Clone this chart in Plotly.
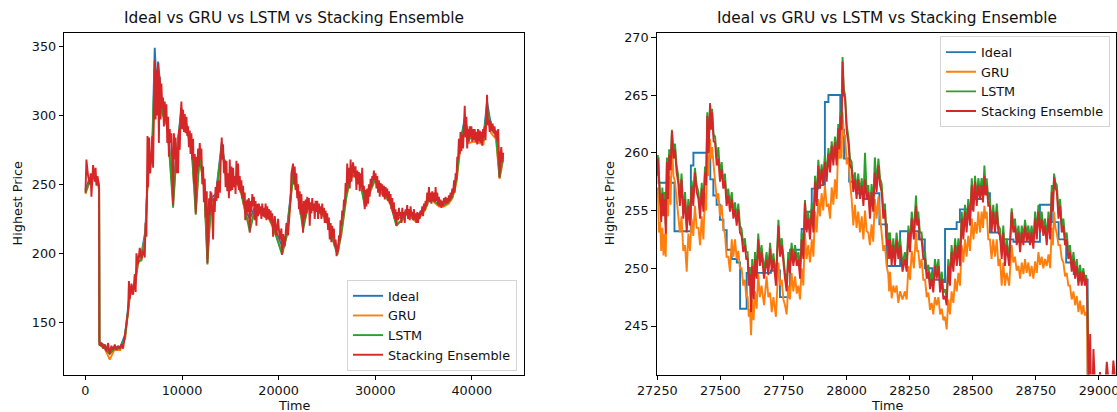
import plotly.graph_objects as go

# ---------------- data: left panel (full test range) ----------------
left_time = [
    0, 100, 273, 446, 540, 618, 791, 963, 1050, 1136,
    1250, 1350, 1412, 1440, 1481, 1653, 1826, 1998, 2171, 2344,
    2516, 2689, 2861, 3034, 3206, 3379, 3551, 3724, 3896, 4069,
    4241, 4414, 4500, 4586, 4759, 4932, 5104, 5200, 5277, 5449,
    5622, 5794, 5967, 6139, 6230, 6312, 6420, 6484, 6600, 6700,
    6829, 6920, 7002, 7174, 7260, 7347, 7450, 7520, 7600, 7692,
    7780, 7865, 7950, 8037, 8120, 8210, 8300, 8382, 8470, 8555,
    8640, 8727, 8800, 8900, 8990, 9072, 9160, 9245, 9330, 9417,
    9500, 9590, 9680, 9763, 9850, 9935, 10020, 10108, 10200, 10280,
    10370, 10453, 10540, 10625, 10710, 10798, 10880, 10970, 11060, 11143,
    11230, 11315, 11419, 11488, 11570, 11660, 11750, 11833, 11920, 12005,
    12090, 12178, 12260, 12351, 12440, 12560, 12627, 12720, 12799, 12870,
    12937, 13000, 13041, 13130, 13213, 13300, 13386, 13470, 13558, 13650,
    13740, 13834, 13920, 14020, 14110, 14180, 14248, 14330, 14421, 14510,
    14594, 14680, 14766, 14850, 14939, 15020, 15111, 15200, 15284, 15370,
    15456, 15540, 15629, 15710, 15801, 15890, 15974, 16060, 16146, 16230,
    16319, 16400, 16491, 16540, 16600, 16664, 16750, 16836, 16920, 17009,
    17090, 17182, 17270, 17354, 17440, 17527, 17610, 17699, 17790, 17872,
    17960, 18044, 18130, 18217, 18300, 18389, 18480, 18562, 18650, 18734,
    18820, 18907, 18990, 19079, 19170, 19252, 19340, 19425, 19596, 19769,
    19941, 20114, 20286, 20355, 20459, 20631, 20804, 20976, 21149, 21240,
    21321, 21494, 21580, 21666, 21750, 21839, 21920, 22011, 22100, 22184,
    22270, 22357, 22529, 22610, 22702, 22790, 22874, 22960, 23047, 23130,
    23219, 23300, 23392, 23480, 23564, 23650, 23737, 23820, 23909, 24000,
    24082, 24170, 24254, 24340, 24427, 24510, 24599, 24690, 24772, 24860,
    24945, 25030, 25117, 25200, 25290, 25380, 25462, 25550, 25635, 25720,
    25807, 25900, 26000, 26083, 26152, 26240, 26325, 26410, 26497, 26580,
    26670, 26760, 26842, 26930, 27015, 27100, 27187, 27280, 27360, 27450,
    27532, 27700, 27878, 27960, 28050, 28140, 28223, 28300, 28395, 28480,
    28568, 28650, 28740, 28830, 28913, 29000, 29085, 29170, 29258, 29340,
    29430, 29520, 29603, 29690, 29776, 29860, 29948, 30040, 30121, 30210,
    30293, 30380, 30466, 30550, 30638, 30720, 30811, 30900, 30983, 31070,
    31156, 31240, 31328, 31420, 31501, 31590, 31673, 31760, 31846, 31930,
    32019, 32100, 32191, 32280, 32364, 32450, 32536, 32620, 32709, 32800,
    32881, 32970, 33054, 33140, 33226, 33310, 33399, 33490, 33571, 33660,
    33744, 33830, 33916, 34000, 34089, 34170, 34261, 34350, 34434, 34520,
    34607, 34690, 34779, 34870, 34952, 35040, 35124, 35210, 35297, 35380,
    35469, 35560, 35642, 35730, 35814, 35900, 35987, 36070, 36159, 36250,
    36332, 36420, 36504, 36590, 36677, 36760, 36849, 36940, 37022, 37110,
    37195, 37280, 37367, 37450, 37540, 37620, 37712, 37800, 37885, 37970,
    38057, 38161, 38230, 38320, 38402, 38490, 38575, 38660, 38747, 38830,
    38920, 39000, 39092, 39180, 39265, 39350, 39437, 39520, 39610, 39700,
    39782, 39870, 39955, 40040, 40127, 40210, 40300, 40390, 40472, 40560,
    40645, 40730, 40817, 40900, 40990, 41080, 41163, 41250, 41335, 41420,
    41508, 41577, 41650, 41750, 41850, 41950, 42050, 42150, 42250, 42350,
    42450, 42550, 42650, 42730, 42800, 42870, 42950, 43050, 43150, 43250,
]
left_ensemble = [
    244, 268, 256, 250, 258, 241, 264, 252, 262, 249,
    256, 250, 248, 137, 133, 135, 131, 134, 129, 135,
    127, 133, 130, 134, 130, 133, 131, 134, 131, 140,
    150, 158, 180, 167, 178, 170, 185, 172, 200, 192,
    204, 196, 202, 197, 222, 212, 285, 248, 284, 258,
    270, 285, 262, 340, 297, 333, 300, 338, 280, 328,
    297, 323, 305, 313, 292, 310, 296, 308, 280, 299,
    270, 290, 280, 287, 262, 235, 287, 268, 284, 258,
    277, 258, 290, 275, 300, 310, 290, 304, 288, 301,
    287, 299, 285, 292, 277, 289, 272, 287, 268, 283,
    250, 272, 229, 270, 258, 276, 263, 280, 268, 276,
    250, 263, 237, 254, 226, 245, 193, 230, 240, 228,
    245, 235, 244, 225, 210, 240, 230, 248, 238, 252,
    240, 253, 244, 270, 284, 268, 279, 258, 268, 248,
    267, 245, 258, 240, 268, 245, 263, 246, 262, 248,
    256, 243, 267, 250, 265, 246, 256, 244, 253, 240,
    249, 235, 244, 224, 238, 229, 239, 230, 240, 215,
    238, 230, 243, 234, 241, 224, 238, 220, 236, 227,
    236, 229, 234, 225, 236, 227, 233, 226, 236, 224,
    234, 225, 232, 224, 231, 222, 229, 212, 227, 213,
    225, 210, 218, 199, 214, 205, 222, 213, 228, 240,
    258, 265, 250, 263, 246, 258, 240, 250, 232, 245,
    228, 243, 215, 238, 225, 239, 229, 241, 232, 240,
    220, 237, 229, 240, 231, 236, 225, 238, 230, 238,
    225, 236, 229, 234, 225, 236, 228, 233, 222, 231,
    222, 229, 217, 226, 210, 222, 208, 220, 212, 218,
    205, 210, 198, 205, 201, 213, 209, 224, 220, 231,
    227, 239, 234, 251, 244, 265, 250, 262, 247, 268,
    252, 266, 255, 263, 246, 260, 250, 259, 245, 258,
    248, 262, 245, 249, 232, 246, 234, 247, 236, 250,
    241, 254, 248, 256, 253, 260, 253, 258, 247, 256,
    244, 253, 241, 251, 245, 250, 241, 249, 239, 248,
    241, 247, 238, 245, 236, 243, 232, 240, 229, 237,
    225, 232, 220, 230, 224, 233, 227, 230, 222, 233,
    226, 230, 222, 232, 228, 235, 225, 232, 224, 234,
    227, 230, 224, 232, 225, 229, 222, 230, 222, 229,
    225, 231, 228, 234, 227, 236, 231, 238, 234, 244,
    238, 248, 237, 244, 236, 245, 238, 244, 237, 248,
    238, 244, 235, 241, 234, 239, 233, 238, 234, 240,
    236, 241, 236, 240, 237, 242, 238, 244, 240, 247,
    243, 253, 244, 258, 253, 270, 268, 283, 272, 288,
    274, 286, 276, 290, 307, 284, 299, 276, 290, 281,
    292, 284, 292, 281, 290, 282, 290, 281, 288, 279,
    290, 281, 289, 280, 288, 278, 290, 284, 292, 282,
    300, 315, 293, 297, 288, 296, 289, 294, 287, 292,
    284, 289, 281, 290, 272, 255, 270, 277, 266, 273,
]
left_model_time = [
    0, 400, 800, 1300, 1412, 1450, 2000, 2516, 3000, 3600,
    4100, 4600, 5100, 5450, 5800, 6200, 6500, 6900, 7174, 7400,
    7520, 8000, 8500, 9072, 9400, 9935, 10500, 11000, 11419, 11800,
    12300, 12627, 13000, 13500, 14110, 14600, 15100, 15600, 16100, 16600,
    17009, 17500, 18000, 18500, 19000, 19500, 20355, 20800, 21494, 22000,
    22529, 23000, 23500, 24000, 24500, 25000, 25500, 26083, 26500, 27000,
    27450, 28000, 28500, 28913, 29500, 30000, 30500, 31000, 31500, 32191,
    32700, 33200, 33700, 34200, 34700, 35200, 35600, 36100, 36600, 37100,
    37600, 38000, 38400, 38800, 39265, 39700, 40200, 40700, 41200, 41577,
    42000, 42500, 42870, 43250,
]
left_ideal = [
    246, 254, 258, 253, 248, 136, 133, 129, 132, 132,
    141, 172, 178, 196, 200, 216, 265, 273, 349, 315,
    339, 303, 294, 245, 271, 305, 292, 278, 240, 272,
    250, 200, 240, 243, 280, 256, 254, 255, 247, 231,
    225, 233, 232, 230, 228, 220, 205, 214, 258, 245,
    226, 235, 235, 234, 231, 226, 215, 203, 217, 243,
    258, 259, 252, 240, 248, 256, 247, 244, 240, 226,
    226, 231, 229, 226, 230, 235, 242, 240, 237, 237,
    239, 243, 255, 280, 298, 285, 286, 285, 284, 310,
    292, 288, 258, 272,
]
left_gru = [
    243, 251, 255, 250, 246, 134, 131, 123, 130, 130,
    138, 169, 175, 193, 197, 213, 262, 270, 330, 312,
    320, 300, 291, 238, 268, 302, 289, 275, 232, 269,
    247, 196, 237, 240, 276, 253, 251, 252, 244, 228,
    220, 230, 229, 227, 225, 217, 201, 211, 255, 242,
    220, 232, 232, 231, 228, 223, 212, 200, 214, 240,
    255, 256, 249, 236, 245, 253, 244, 241, 237, 222,
    223, 228, 226, 223, 227, 232, 239, 237, 234, 234,
    236, 240, 251, 276, 293, 280, 281, 280, 279, 302,
    287, 283, 254, 268,
]
left_lstm = [
    244, 252, 256, 251, 247, 134, 131, 127, 131, 131,
    139, 170, 176, 194, 195, 214, 263, 271, 335, 313,
    328, 301, 292, 233, 269, 303, 290, 276, 228, 270,
    248, 192, 238, 241, 278, 254, 252, 253, 245, 229,
    216, 231, 230, 228, 226, 218, 199, 212, 256, 243,
    217, 233, 233, 232, 229, 224, 213, 199, 215, 241,
    256, 257, 250, 234, 246, 254, 245, 242, 238, 220,
    224, 229, 227, 224, 228, 233, 240, 238, 235, 235,
    237, 241, 253, 278, 296, 283, 284, 283, 282, 306,
    290, 286, 255, 270,
]

# ---------------- data: right panel (zoomed window) ----------------
# each reading: time, upper and lower value of the noisy band
right_time = [
    27242, 27252, 27261, 27270, 27279, 27288, 27297, 27308, 27320, 27333,
    27346, 27360, 27373, 27386, 27399, 27413, 27426, 27439, 27448, 27459,
    27467, 27479, 27492, 27505, 27518, 27531, 27545, 27558, 27571, 27584,
    27597, 27608, 27617, 27626, 27637, 27650, 27663, 27683,
    27697, 27710, 27730, 27743, 27756, 27769, 27782, 27796, 27809, 27822,
    27835, 27848, 27862, 27875, 27888, 27901, 27914, 27928, 27941, 27954,
    27967, 27976, 27984, 27994, 28007, 28020, 28033, 28046, 28060, 28073,
    28086, 28099, 28112, 28126, 28139, 28152, 28165,
    28172, 28185, 28198, 28212, 28231, 28245, 28258, 28275, 28284, 28297,
    28311, 28324, 28337, 28350, 28364, 28377, 28390, 28403, 28416, 28430,
    28443, 28456, 28469, 28482, 28496, 28509, 28522, 28535, 28546, 28555,
    28568, 28581, 28595,
    28608, 28621, 28634, 28654, 28667, 28681, 28694, 28707, 28720, 28733,
    28747, 28760, 28773, 28786, 28800, 28813, 28822, 28833, 28846, 28859,
    28872, 28885, 28899, 28912, 28925, 28938, 28949,
    28956, 28965, 28971, 28978, 28991, 29004, 29017, 29031, 29044, 29057,
    29070, 29080,
]
right_ensemble_hi = [
    259.8, 259.5, 256.5, 256.5, 256.0, 259.2, 259.8, 261.9, 260.3, 257.4,
    257.7, 256.0, 255.4, 257.1, 258.3, 256.0, 256.9, 258.3, 263.2, 264.2,
    263.5, 260.9, 259.5, 258.6, 257.6, 256.3, 256.0, 255.1, 255.1, 252.8,
    252.0, 250.8, 249.5, 250.2, 250.8, 252.5, 251.4, 250.8,
    251.7, 250.8, 253.7, 252.0, 249.1, 250.8, 251.7, 251.4, 250.8, 252.5,
    255.7, 254.3, 255.1, 257.5, 258.9, 258.6, 259.2, 259.9, 260.6, 260.9,
    262.1, 263.2, 267.9, 264.7, 260.9, 258.6, 257.7, 257.7, 257.2, 257.7,
    256.6, 256.6, 258.3, 258.9, 256.6, 255.1, 252.5,
    252.5, 252.0, 252.5, 252.0, 250.8, 253.1, 254.3, 255.4, 254.3, 252.5,
    250.8, 249.7, 249.1, 250.2, 250.2, 249.1, 247.6, 250.2, 251.4, 252.0,
    252.0, 254.3, 254.9, 255.4, 257.2, 257.5, 257.2, 257.2, 258.0, 257.2,
    255.4, 254.9, 254.9,
    252.8, 253.1, 252.0, 254.9, 253.7, 253.1, 253.1, 253.7, 253.1, 253.1,
    254.3, 254.9, 254.3, 253.7, 254.3, 256.6, 257.9, 256.6, 255.4, 253.7,
    252.5, 251.4, 250.8, 250.2, 249.7, 249.7, 249.1,
    239.5, 244.3, 240.2, 243.0, 240.0, 241.0, 240.2, 241.9, 240.5, 242.0,
    240.6, 241.5,
]
right_ensemble_lo = [
    258.0, 257.7, 254.0, 254.5, 253.0, 256.0, 258.5, 259.5, 258.3, 255.4,
    254.3, 253.1, 253.7, 255.4, 256.6, 254.3, 254.9, 257.2, 260.0, 262.0,
    261.0, 258.9, 257.5, 256.9, 255.4, 254.9, 254.3, 253.7, 253.1, 251.4,
    250.8, 248.5, 246.2, 247.3, 249.1, 250.2, 249.1, 249.4,
    249.7, 248.5, 251.0, 250.2, 248.0, 249.6, 250.2, 250.2, 249.1, 250.8,
    253.1, 252.5, 253.1, 255.4, 256.9, 257.2, 257.5, 258.3, 258.9, 258.9,
    260.3, 262.0, 265.0, 261.8, 258.9, 256.6, 256.0, 256.0, 255.4, 256.0,
    254.3, 254.9, 256.6, 257.2, 254.3, 252.0, 250.8,
    250.2, 250.2, 250.8, 249.7, 249.7, 251.4, 252.5, 253.7, 252.5, 250.8,
    249.1, 248.2, 247.9, 249.1, 247.9, 247.3, 246.8, 248.5, 249.7, 250.2,
    250.2, 252.5, 253.1, 253.7, 254.9, 255.4, 256.0, 255.7, 256.3, 255.4,
    253.1, 253.1, 253.1,
    250.8, 250.2, 250.2, 253.1, 252.0, 251.4, 252.0, 252.3, 252.0, 251.7,
    252.5, 253.1, 252.8, 252.0, 252.5, 254.9, 257.0, 254.3, 253.1, 252.0,
    250.8, 249.7, 249.1, 248.5, 248.5, 248.5, 248.2,
    239.0, 240.0, 239.5, 239.8, 239.5, 239.8, 239.5, 240.3, 239.6, 240.5,
    239.8, 240.2,
]
right_gru_hi = [
    258.0, 257.0, 254.0, 253.5, 253.0, 257.0, 258.0, 260.9, 257.5, 254.3,
    254.5, 252.0, 253.0, 254.3, 255.4, 253.5, 254.5, 256.5, 260.0, 261.2,
    260.5, 257.5, 256.5, 255.5, 253.0, 251.0, 252.5, 252.5, 251.5, 250.0,
    249.0, 247.5, 246.5, 247.3, 248.0, 249.5, 248.5, 249.3,
    247.9, 247.5, 250.5, 249.0, 246.8, 248.5, 249.6, 249.3, 248.5, 250.0,
    253.1, 252.0, 252.5, 254.9, 256.0, 256.5, 257.2, 255.5, 257.0, 257.7,
    260.9, 261.0, 263.5, 261.5, 259.5, 256.0, 255.5, 254.9, 254.5, 255.0,
    253.1, 253.8, 256.0, 256.2, 253.0, 252.0, 249.5,
    249.7, 248.5, 248.5, 248.0, 248.0, 250.2, 251.5, 253.1, 251.5, 250.8,
    249.0, 247.9, 247.0, 247.5, 247.5, 246.5, 245.8, 247.3, 248.0, 249.1,
    249.6, 252.0, 252.5, 252.8, 254.3, 254.0, 254.9, 254.9, 255.4, 254.9,
    252.5, 252.5, 252.5,
    250.8, 250.5, 249.6, 252.0, 251.0, 250.2, 250.5, 250.8, 250.5, 250.2,
    250.6, 251.4, 251.0, 250.8, 251.2, 253.5, 254.9, 253.0, 252.0, 250.5,
    249.6, 248.5, 248.0, 247.6, 247.2, 246.8, 246.2,
    237.6, 238.0, 237.5, 237.8, 237.4, 237.8, 237.5, 238.1, 237.6, 238.0,
    237.5, 237.9,
]
right_gru_lo = [
    256.5, 253.1, 251.5, 251.1, 251.0, 254.5, 255.5, 258.0, 256.0, 253.1,
    251.5, 249.7, 251.5, 252.8, 253.5, 252.0, 252.5, 255.0, 258.0, 259.5,
    258.5, 256.0, 254.5, 253.5, 251.0, 249.7, 251.0, 250.8, 250.0, 248.5,
    247.5, 245.8, 244.2, 245.5, 246.5, 247.5, 246.8, 247.5,
    246.2, 245.8, 248.5, 247.3, 246.0, 247.3, 248.0, 247.8, 247.3, 248.5,
    250.8, 250.5, 251.0, 253.1, 254.5, 255.0, 255.4, 254.3, 255.5, 256.0,
    259.5, 259.5, 261.5, 259.0, 257.5, 253.7, 253.5, 253.1, 252.5, 253.2,
    252.0, 252.3, 254.3, 254.5, 251.5, 250.2, 248.0,
    247.4, 247.9, 247.0, 247.3, 247.3, 249.0, 250.0, 251.5, 250.0, 249.0,
    247.5, 246.4, 246.0, 246.8, 246.0, 245.5, 244.7, 246.0, 247.0, 248.0,
    248.5, 250.5, 251.0, 251.5, 252.5, 253.0, 253.1, 253.5, 254.3, 252.5,
    250.8, 251.0, 250.2,
    248.5, 248.5, 248.5, 250.5, 249.8, 249.1, 249.5, 249.6, 249.3, 249.1,
    249.6, 250.3, 250.0, 250.2, 250.0, 252.0, 253.5, 252.0, 250.8, 249.3,
    248.5, 247.3, 246.8, 246.2, 246.0, 245.9, 246.0,
    236.8, 237.2, 236.9, 237.0, 236.8, 237.1, 236.9, 237.3, 236.9, 237.2,
    236.8, 237.1,
]
right_lstm_hi = [
    260.0, 259.8, 257.0, 257.0, 256.6, 259.6, 260.3, 262.0, 260.8, 258.0,
    258.2, 256.6, 256.0, 257.6, 258.7, 256.6, 257.4, 258.8, 263.5, 264.3,
    263.8, 261.4, 260.5, 259.2, 258.2, 256.9, 256.6, 255.7, 255.6, 253.4,
    252.6, 251.4, 250.1, 250.8, 251.4, 253.0, 252.0, 251.4,
    252.2, 251.3, 254.2, 252.6, 249.6, 251.4, 252.2, 252.0, 251.4, 253.1,
    255.9, 254.9, 255.7, 258.0, 259.4, 259.0, 259.8, 260.4, 261.0, 261.4,
    262.5, 263.5, 268.3, 265.0, 261.4, 259.2, 258.3, 258.2, 257.8, 260.0,
    257.2, 257.3, 259.6, 259.5, 257.3, 255.6, 253.1,
    253.1, 252.6, 253.1, 252.6, 251.4, 253.7, 254.9, 256.3, 254.9, 253.1,
    251.4, 250.3, 249.7, 250.8, 250.8, 249.7, 248.2, 250.8, 252.0, 252.6,
    252.6, 254.9, 255.5, 256.0, 257.8, 258.0, 257.8, 257.8, 258.9, 257.8,
    256.0, 255.5, 255.6,
    253.4, 253.7, 252.6, 255.2, 254.3, 253.7, 253.7, 254.2, 253.7, 253.7,
    254.9, 255.5, 254.9, 254.3, 254.9, 257.2, 258.2, 257.2, 256.0, 254.3,
    253.1, 252.0, 251.4, 250.8, 250.3, 250.0, 249.4,
    239.3, 239.6, 239.2, 239.5, 239.1, 239.4, 239.2, 239.7, 239.3, 239.6,
    239.2, 239.5,
]
right_lstm_lo = [
    258.5, 258.2, 254.8, 255.2, 253.8, 256.8, 259.0, 260.0, 258.9, 256.0,
    255.0, 253.8, 254.3, 256.0, 257.2, 255.0, 255.5, 257.7, 260.6, 262.5,
    261.6, 259.5, 258.0, 257.5, 256.0, 255.5, 254.9, 254.3, 253.7, 252.0,
    251.4, 249.2, 247.0, 248.0, 249.7, 250.8, 249.8, 250.0,
    250.2, 249.2, 251.6, 250.8, 248.6, 250.2, 250.8, 250.8, 249.7, 251.4,
    253.7, 253.1, 253.7, 256.0, 257.4, 257.8, 258.0, 258.9, 259.4, 259.5,
    260.8, 262.5, 265.5, 262.4, 259.5, 257.2, 256.6, 256.6, 256.0, 256.6,
    255.0, 255.5, 257.2, 257.8, 255.0, 252.6, 251.4,
    250.8, 250.8, 251.4, 250.3, 250.3, 252.0, 253.1, 254.3, 253.1, 251.4,
    249.7, 248.8, 248.5, 249.7, 248.5, 247.9, 247.4, 249.1, 250.3, 250.8,
    250.8, 253.1, 253.7, 254.3, 255.5, 256.0, 256.6, 256.3, 256.9, 256.0,
    253.7, 253.7, 253.7,
    251.4, 250.8, 250.8, 253.7, 252.6, 252.0, 252.6, 252.9, 252.6, 252.3,
    253.1, 253.7, 253.4, 252.6, 253.1, 255.5, 257.4, 254.9, 253.7, 252.6,
    251.4, 250.3, 249.7, 249.1, 249.1, 249.1, 248.8,
    238.6, 238.9, 238.6, 238.8, 238.5, 238.8, 238.6, 239.0, 238.6, 238.9,
    238.5, 238.8,
]
right_ideal_time = [
    27240, 27255, 27318, 27383, 27393, 27460, 27472, 27485, 27498, 27512,
    27525, 27545, 27565, 27578, 27604, 27700, 27736, 27776, 27822, 27835,
    27862, 27888, 27914, 27928, 27975, 27990, 28010, 28040, 28070, 28100,
    28130, 28160, 28212, 28285, 28310, 28340, 28383, 28390, 28436, 28449,
    28500, 28540, 28568, 28608, 28661, 28766, 28813, 28840, 28870, 28900,
    28930, 28955, 29080,
]
right_ideal = [
    259.5, 257.4, 253.2, 258.9, 260.0, 257.7, 256.3, 255.5, 254.2, 253.3,
    251.6, 250.8, 250.5, 246.5, 249.6, 249.8, 247.5, 251.6, 253.4, 254.9,
    256.9, 257.2, 264.4, 265.0, 262.0, 259.5, 257.5, 256.5, 256.0, 256.5,
    253.8, 250.2, 253.2, 252.5, 250.0, 249.0, 248.8, 253.4, 254.0, 255.1,
    256.0, 256.5, 253.1, 252.5, 252.3, 255.5, 254.0, 252.5, 250.5, 249.5,
    249.0, 238.0, 238.0,
]

series_names = ["Ideal", "GRU", "LSTM", "Stacking Ensemble"]
series_colors = ["#1f77b4", "#ff7f0e", "#2ca02c", "#d62728"]
left_x_ticks = [0, 10000, 20000, 30000, 40000]
left_y_ticks = [150, 200, 250, 300, 350]
right_x_ticks = [27250, 27500, 27750, 28000, 28250, 28500, 28750, 29000]
right_y_ticks = [245, 250, 255, 260, 265, 270]
title_text = "Ideal vs GRU vs LSTM vs Stacking Ensemble"


def band(times, hi, lo):
    """Noisy band: alternate between upper and lower reading."""
    xs, ys = [], []
    n = len(times)
    for i, (t, h, l) in enumerate(zip(times, hi, lo)):
        nxt = times[i + 1] if i + 1 < n else t + 12
        xs += [t, (t + nxt) / 2]
        ys += [h, l]
    return xs, ys


W, H = 1117, 412
LW = 1.9
FONT = "DejaVu Sans"
TXT = "#111111"

fig = go.Figure()

# left panel
left_sets = [
    (left_model_time, left_ideal),
    (left_model_time, left_gru),
    (left_model_time, left_lstm),
    (left_time, left_ensemble),
]
for (xs, ys), name, col in zip(left_sets, series_names, series_colors):
    fig.add_trace(go.Scatter(x=xs, y=ys, mode="lines", name=name,
                             line=dict(color=col, width=LW),
                             xaxis="x", yaxis="y", legend="legend"))

# right panel
rx_g, ry_g = band(right_time, right_gru_hi, right_gru_lo)
rx_l, ry_l = band(right_time, right_lstm_hi, right_lstm_lo)
rx_e, ry_e = band(right_time, right_ensemble_hi, right_ensemble_lo)
right_sets = [
    (right_ideal_time, right_ideal, "hv"),
    (rx_g, ry_g, "linear"),
    (rx_l, ry_l, "linear"),
    (rx_e, ry_e, "linear"),
]
for (xs, ys, shape), name, col in zip(right_sets, series_names, series_colors):
    fig.add_trace(go.Scatter(x=xs, y=ys, mode="lines", name=name,
                             line=dict(color=col, width=LW, shape=shape),
                             xaxis="x2", yaxis="y2", legend="legend2"))

axis_common = dict(showline=True, linecolor="black", linewidth=1, mirror=True,
                   ticks="outside", ticklen=4.5, tickwidth=1, tickcolor="black",
                   showgrid=False, zeroline=False, tickformat="d",
                   automargin=False, ticklabeloverflow="allow",
                   tickfont=dict(family=FONT, size=12.8, color=TXT))

ydom = [1 - 374.5 / H, 1 - 32.7 / H]
fig.update_layout(
    width=W, height=H,
    margin=dict(l=0, r=0, t=0, b=0, autoexpand=False),
    paper_bgcolor="white", plot_bgcolor="white",
    font=dict(family=FONT, size=12.8, color=TXT),
    xaxis=dict(domain=[64.3 / W, 523.9 / W], range=[-2190, 45390],
               tickvals=left_x_ticks, anchor="y", **axis_common),
    yaxis=dict(domain=ydom, range=[112.2, 359.9],
               tickvals=left_y_ticks, anchor="x", **axis_common),
    xaxis2=dict(domain=[656.7 / W, 1116.3 / W], range=[27247.6, 29068.6],
                tickvals=right_x_ticks, anchor="y2", **axis_common),
    yaxis2=dict(domain=ydom, range=[240.8, 270.4],
                tickvals=right_y_ticks, anchor="x2", **axis_common),
    legend=dict(x=517 / W, xanchor="right", y=1 - 371 / H, yanchor="bottom",
                bgcolor="rgba(255,255,255,0.85)", bordercolor="#d4d4d4",
                borderwidth=1, font=dict(family=FONT, size=12.8, color=TXT),
                tracegroupgap=0, itemwidth=30),
    legend2=dict(x=1110 / W, xanchor="right", y=1 - 36.3 / H, yanchor="top",
                 bgcolor="rgba(255,255,255,0.85)", bordercolor="#d4d4d4",
                 borderwidth=1, font=dict(family=FONT, size=12.8, color=TXT),
                 tracegroupgap=0, itemwidth=30),
    showlegend=True,
)

annotations = [
    dict(text=title_text, x=(64.3 + 523.9) / 2 / W, y=1 - 18.3 / H,
         font=dict(size=15.4)),
    dict(text=title_text, x=(656.7 + 1116.3) / 2 / W, y=1 - 18.3 / H,
         font=dict(size=15.4)),
    dict(text="Time", x=(64.3 + 523.9) / 2 / W, y=1 - 405.0 / H,
         font=dict(size=12.8)),
    dict(text="Time", x=(656.7 + 1116.3) / 2 / W, y=1 - 405.0 / H,
         font=dict(size=12.8)),
    dict(text="Highest Price", x=17.8 / W, y=1 - 203.6 / H, textangle=-90,
         font=dict(size=12.8)),
    dict(text="Highest Price", x=609.7 / W, y=1 - 203.6 / H, textangle=-90,
         font=dict(size=12.8)),
]
for a in annotations:
    a.update(xref="paper", yref="paper", xanchor="center", yanchor="middle",
             showarrow=False)
    a["font"].update(family=FONT, color=TXT)
fig.update_layout(annotations=annotations)

fig.write_html("out.html", config={"displayModeBar": False})
